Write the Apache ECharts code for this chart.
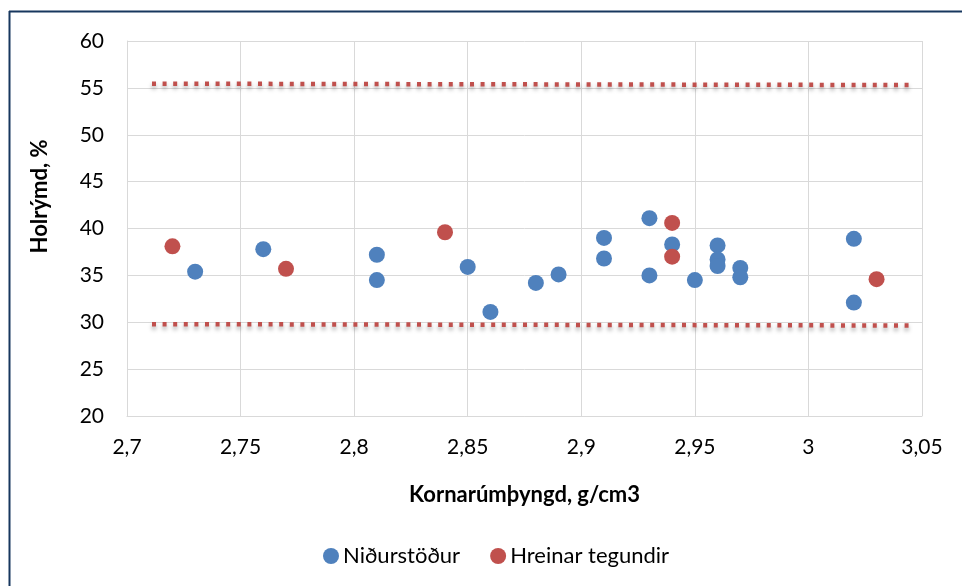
<!DOCTYPE html>
<html>
<head>
<meta charset="utf-8">
<script src="https://cdn.jsdelivr.net/npm/echarts@6/dist/echarts.min.js"></script>
<style>html,body{margin:0;padding:0;background:#fff}#c{width:962px;height:586px}</style>
</head>
<body>
<div id="c"></div>
<script>
const seriesNames = ['Niðurstöður', 'Hreinar tegundir'];
const nidurstodurX = [2.73, 2.76, 2.81, 2.81, 2.85, 2.86, 2.88, 2.89, 2.91, 2.91, 2.93, 2.93, 2.94, 2.95, 2.96, 2.96, 2.96, 2.97, 2.97, 3.02, 3.02];
const nidurstodurY = [35.4, 37.8, 37.2, 34.5, 35.9, 31.1, 34.2, 35.1, 39.0, 36.8, 41.1, 35.0, 38.3, 34.5, 38.2, 36.7, 36.0, 35.8, 34.8, 38.9, 32.1];
const hreinarX = [2.72, 2.77, 2.84, 2.94, 2.94, 3.03];
const hreinarY = [38.1, 35.7, 39.6, 40.6, 37.0, 34.6];
const upperLineX = [2.711, 3.047];
const upperLineY = [55.45, 55.3];
const lowerLineX = [2.711, 3.047];
const lowerLineY = [29.8, 29.65];
const xTitle = 'Kornarúmþyngd, g/cm3';
const yTitle = 'Holrýmd, %';

const zip = (a, b) => a.map((v, i) => [v, b[i]]);
const font = 'Lato, "Open Sans", sans-serif';
const refLineStyle = {
  color: '#c0504d', width: 4.5, type: [4, 6.6], cap: 'butt',
  shadowColor: 'rgba(0,0,0,0.35)', shadowBlur: 4, shadowOffsetY: 3
};

const chart = echarts.init(document.getElementById('c'), null, {renderer: 'canvas'});
chart.setOption({
  animation: false,
  backgroundColor: '#fff',
  grid: {left: 127, right: 40, top: 41, bottom: 170},
  xAxis: {
    type: 'value', min: 2.7, max: 3.05, interval: 0.05,
    name: xTitle, nameLocation: 'middle', nameGap: 68,
    nameTextStyle: {fontFamily: font, fontSize: 22, fontWeight: 'bold', color: '#000'},
    axisLine: {show: true, lineStyle: {color: '#d9d9d9', width: 1}},
    axisTick: {show: false},
    axisLabel: {fontFamily: font, fontSize: 21, color: '#000', margin: 21,
      formatter: v => String(+v.toFixed(2)).replace('.', ',')},
    splitLine: {show: true, lineStyle: {color: '#d9d9d9', width: 1}}
  },
  yAxis: {
    type: 'value', min: 20, max: 60, interval: 5,
    name: yTitle, nameLocation: 'middle', nameGap: 76,
    nameTextStyle: {fontFamily: font, fontSize: 22, fontWeight: 'bold', color: '#000', padding: [0, 0, 0, 64]},
    axisLine: {show: true, lineStyle: {color: '#d9d9d9', width: 1}},
    axisTick: {show: false},
    axisLabel: {fontFamily: font, fontSize: 21, color: '#000', margin: 23},
    splitLine: {show: true, lineStyle: {color: '#d9d9d9', width: 1}}
  },
  legend: {
    data: seriesNames, bottom: 14, left: 318, icon: 'circle',
    itemWidth: 16, itemHeight: 16, itemGap: 30,
    textStyle: {fontFamily: font, fontSize: 22, color: '#000', padding: [0, 0, 0, -1]}
  },
  graphic: [
    {type: 'line', shape: {x1: 9, y1: 11.5, x2: 962, y2: 11.5}, style: {stroke: '#17375e', lineWidth: 2}},
    {type: 'line', shape: {x1: 9.5, y1: 11, x2: 9.5, y2: 586}, style: {stroke: '#17375e', lineWidth: 2}}
  ],
  series: [
    {name: 'upper', type: 'line', data: zip(upperLineX, upperLineY), symbol: 'none', silent: true, lineStyle: refLineStyle, z: 3},
    {name: 'lower', type: 'line', data: zip(lowerLineX, lowerLineY), symbol: 'none', silent: true, lineStyle: refLineStyle, z: 3},
    {name: seriesNames[0], type: 'scatter', data: zip(nidurstodurX, nidurstodurY), symbolSize: 16, itemStyle: {color: '#4f81bd', opacity: 1}, z: 4},
    {name: seriesNames[1], type: 'scatter', data: zip(hreinarX, hreinarY), symbolSize: 16, itemStyle: {color: '#c0504d', opacity: 1}, z: 4}
  ]
});
</script>
</body>
</html>
